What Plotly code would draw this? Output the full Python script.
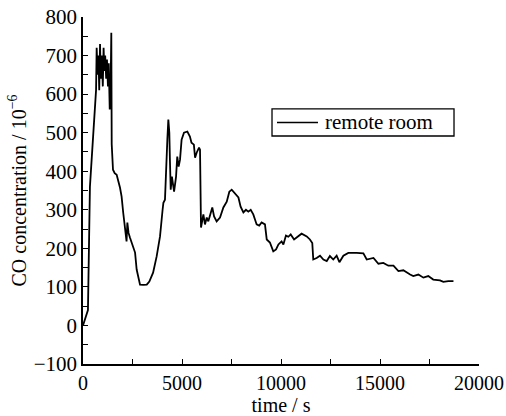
import plotly.graph_objects as go

time_s = [0, 250, 350, 420, 490, 520, 555, 600, 660, 690, 740, 780, 820, 860, 900, 950, 1000,
          1040, 1080, 1120, 1170, 1210, 1260, 1300, 1350, 1390, 1430, 1450, 1500, 1515, 1600,
          1700, 1870, 1950, 2030, 2120, 2200, 2240, 2300, 2370, 2530, 2630, 2710, 2800, 2880,
          3050, 3220, 3350, 3540, 3720, 3890, 4020, 4060, 4140, 4190, 4260, 4310, 4360, 4390,
          4430, 4490, 4600, 4700, 4760, 4830, 4900, 4980, 5100, 5270, 5400, 5480, 5600, 5660,
          5740, 5860, 5910, 5960, 6080, 6160, 6250, 6330, 6410, 6530, 6620, 6750, 6920, 7090,
          7260, 7390, 7510, 7680, 7850, 7960, 8100, 8230, 8350, 8470, 8600, 8770, 8900, 9020,
          9190, 9280, 9440, 9610, 9750, 9870, 10030, 10120, 10250, 10370, 10490, 10660, 10880,
          11040, 11300, 11460, 11580, 11630, 11800, 11970, 12140, 12310, 12470, 12640, 12810,
          12950, 13150, 13400, 13820, 14160, 14330, 14670, 14920, 15170, 15420, 15680, 15930,
          16180, 16520, 16680, 16940, 17190, 17440, 17690, 18030, 18200, 18450, 18710]
co_ppm = [0, 40, 360, 420, 456, 508, 541, 552, 611, 720, 650, 700, 610, 730, 640, 700, 620,
          720, 660, 700, 640, 690, 620, 680, 560, 600, 759, 470, 430, 404, 395,
          391, 357, 334, 293, 257, 218, 267, 240, 228, 205, 189, 145, 119, 106,
          105, 106, 114, 137, 179, 231, 300, 318, 326, 412, 482, 534, 500, 430,
          352, 386, 347, 386, 438, 412, 430, 482, 500, 503, 490, 474, 469, 435,
          448, 461, 456, 254, 288, 262, 280, 270, 283, 306, 283, 270, 280, 306,
          321, 347, 352, 342, 332, 308, 293, 300, 295, 300, 288, 262, 259, 267,
          262, 223, 215, 192, 197, 210, 218, 210, 233, 230, 236, 223, 233,
          238, 231, 223, 214, 171, 175, 181, 171, 167, 180, 171, 181,
          164, 181, 188, 188, 187, 171, 175, 160, 162, 155, 155, 141,
          143, 132, 128, 132, 124, 128, 119, 117, 113, 115, 115]

series_name = "remote room"
x_ticks = [0, 5000, 10000, 15000, 20000]
x_tick_text = ["0", "5000", "10000", "15000", "20000"]
y_ticks = [-100, 0, 100, 200, 300, 400, 500, 600, 700, 800]
y_tick_text = ["\u2212100"] + [str(v) for v in y_ticks[1:]]

FAM = "Liberation Serif, Times New Roman, serif"
font = dict(family=FAM, size=20, color="black")
yfont = dict(family=FAM, size=21, color="black")

fig = go.Figure()
fig.add_trace(go.Scatter(x=time_s, y=co_ppm, mode="lines", name=series_name,
                         line=dict(color="black", width=1.8), showlegend=False))

# legend drawn as box + sample line + text (paper coordinates)
fig.add_shape(type="rect", xref="paper", yref="paper", x0=0.4773, x1=0.9369, y0=0.657, y1=0.735,
              line=dict(color="black", width=1.3), fillcolor="white")
fig.add_shape(type="line", xref="paper", yref="paper", x0=0.4899, x1=0.5934, y0=0.696, y1=0.696,
              line=dict(color="black", width=1.5))
fig.add_annotation(xref="paper", yref="paper", x=0.6061, y=0.696, xanchor="left", yanchor="middle",
                   text=series_name, showarrow=False, font=dict(family=FAM, size=21, color="black"))

fig.update_layout(
    width=506, height=416,
    margin=dict(l=83, r=27, t=17, b=52),
    paper_bgcolor="white", plot_bgcolor="white",
    font=font,
    showlegend=False,
)
fig.update_xaxes(range=[0, 20000], tickvals=x_ticks, ticktext=x_tick_text, ticks="inside", ticklen=5,
                 tickwidth=1.2, tickcolor="black", showline=True, linecolor="black",
                 linewidth=1.5, showgrid=False, zeroline=False, automargin=False,
                 minor=dict(dtick=2500, ticks="inside", ticklen=5, tickcolor="black", tickwidth=1.2),
                 title=dict(text="time / s", standoff=0, font=font), tickfont=font)
fig.update_yaxes(range=[-100, 800], tickvals=y_ticks, ticktext=y_tick_text, ticks="inside",
                 ticklen=5, tickwidth=1.2, tickcolor="black", showline=True, linecolor="black",
                 linewidth=1.5, showgrid=False, zeroline=False, automargin=False,
                 minor=dict(dtick=50, tick0=0, ticks="inside", ticklen=5, tickcolor="black", tickwidth=1.2),
                 title=dict(text="CO concentration / 10<sup>\u22126</sup>", standoff=2, font=font),
                 tickfont=yfont)

fig.write_html("out.html")
